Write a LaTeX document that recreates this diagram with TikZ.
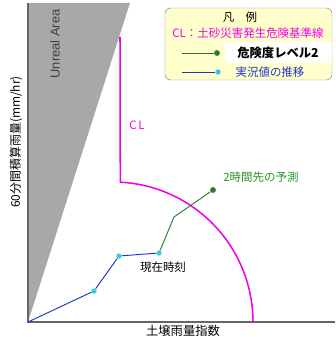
\documentclass[tikz,border=0pt]{standalone}
\usepackage{fontspec}
\setmainfont{Liberation Sans}
\newfontfamily\jp{Noto Sans CJK JP}
\definecolor{clmag}{HTML}{F000E8}
\definecolor{obsblue}{HTML}{2233CC}
\definecolor{obscyan}{HTML}{33CCDD}
\definecolor{fcgreen}{HTML}{2E7A32}
\definecolor{unreal}{HTML}{A8A8A8}
\definecolor{legfill}{HTML}{FFFFCC}
\begin{document}
\begin{tikzpicture}[x=0.03cm,y=0.03cm,
		obsdot/.style={circle,fill=obscyan,inner sep=0pt,minimum size=4.5pt},
		fcdot/.style={circle,fill=fcgreen,inner sep=0pt,minimum size=5pt},
		jptext/.style={font=\jp\fontsize{9.8}{11}\selectfont,inner sep=0pt}]
			\clip (0,0) rectangle (335,337);
			\fill[white] (0,0) rectangle (335,337);
			\fill[unreal] (28,15) -- (28,334) -- (130,334) -- cycle;
			\node[rotate=90,font=\fontsize{11}{13}\selectfont,text=black!75](unreal) at (55,293){Unreal Area};
			\coordinate (o) at (28,15);
			\coordinate (ytop) at (28,334);
			\coordinate (xend) at (335,15);
			\draw[black!60,line width=1.2pt](ytop)--(o)--(xend);
			\node[rotate=90,font=\jp\fontsize{10.2}{12}\selectfont,inner sep=0pt](ylab) at (16,195){60分間積算雨量(mm/hr)};
			\node[font=\jp\fontsize{10.5}{12}\selectfont,inner sep=0pt](xlab) at (183,6.5){土壌雨量指数};
			\coordinate (cltop) at (120,300);
			\coordinate (clcorner) at (120.3,154.8);
			\draw[clmag,line width=1.3pt](cltop)--(clcorner) arc[start angle=87,end angle=0,radius=140];
			\node[jptext,text=clmag](cl) at (137,212){C\,L};
			\node[obsdot](p1) at (94,46){};
			\node[obsdot](p2) at (119,81){};
			\node[obsdot](p3) at (159,84){};
			\coordinate (p4) at (174,120);
			\node[fcdot](p5) at (213,147){};
			\draw[obsblue,thick](o)--(p1)--(p2)--(p3);
			\draw[fcgreen,thick](p3)--(p4)--(p5);
			\node[jptext](now) at (163,70){現在時刻};
			\node[jptext,text=fcgreen!80!green](fc) at (261,160){2時間先の予測};
			\draw[black!45,fill=legfill,rounded corners=5pt](165,257) rectangle (332,329);
			\node[jptext](leg) at (240,320){凡　例};
			\node[jptext,text=clmag](legcl) at (248,304){CL：土砂災害発生危険基準線};
			\coordinate (lga) at (182,284);
			\node[fcdot](lgb) at (217,284){};
			\draw[fcgreen,thick](lga)--(lgb);
			\fill[white] (225,274) rectangle (332,295);
			\node[font=\jp\bfseries\fontsize{10.5}{12}\selectfont,inner sep=0pt](lvl) at (278,284){危険度レベル2};
			\coordinate (lba) at (182,265);
			\node[obsdot](lbb) at (218,265){};
			\draw[obsblue,thick](lba)--(lbb);
			\node[jptext,text=obsblue](legobs) at (270,265){実況値の推移};
		\end{tikzpicture}
\end{document}
